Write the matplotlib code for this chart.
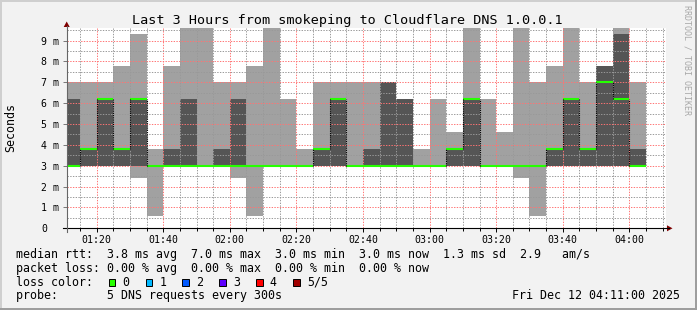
import matplotlib
matplotlib.use("Agg")
import matplotlib.pyplot as plt
import matplotlib.dates as mdates
from matplotlib.lines import Line2D
from matplotlib.patches import Rectangle, Polygon
from matplotlib.ticker import MultipleLocator, FuncFormatter
import numpy as np
import pandas as pd

plt.rcParams['font.family'] = ['DejaVu Sans Mono']

W, H, DPI = 697, 310, 100

# ---------------- data (5-minute intervals, values in ms) ----------------
interval_start = pd.date_range("2025-12-12 01:10", periods=35, freq="5min")
ping_min = [3.0, 3.0, 3.0, 3.0, 2.4, 0.6, 3.0, 3.0, 3.0, 3.0, 2.4, 0.6, 3.0, 3.0, 3.0,
            3.0, 3.0, 3.0, 3.0, 3.0, 3.0, 3.0, 3.0, 3.0, 3.0, 3.0, 3.0, 2.4, 0.6, 3.0,
            3.0, 3.0, 3.0, 3.0, 3.0]
ping_2nd = [3.0] * 35
ping_median = [3.0, 3.8, 6.2, 3.8, 6.2, 3.0, 3.0, 3.0, 3.0, 3.0, 3.0, 3.0, 3.0, 3.0, 3.0,
               3.8, 6.2, 3.0, 3.0, 3.0, 3.0, 3.0, 3.0, 3.8, 6.2, 3.0, 3.0, 3.0, 3.0, 3.8,
               6.2, 3.8, 7.0, 6.2, 3.0]
ping_4th = [6.2, 3.8, 6.2, 3.8, 6.2, 3.0, 3.8, 6.2, 3.0, 3.8, 6.2, 3.0, 3.0, 3.0, 3.0,
            3.8, 6.2, 3.0, 3.8, 7.0, 6.2, 3.0, 3.0, 3.8, 6.2, 3.0, 3.0, 3.0, 3.0, 3.8,
            6.2, 3.8, 7.8, 9.3, 3.8]
ping_max = [7.0, 7.0, 7.0, 7.8, 9.3, 3.8, 7.8, 10.0, 10.0, 7.0, 7.0, 7.8, 10.0, 6.2, 3.8,
            7.0, 7.0, 7.0, 7.0, 7.0, 6.2, 3.8, 6.2, 4.6, 10.0, 6.2, 4.6, 10.0, 7.0, 7.8,
            10.0, 7.0, 7.8, 10.0, 7.0]

title = "Last 3 Hours from smokeping to Cloudflare DNS 1.0.0.1"
legend_rtt = "median rtt:  3.8 ms avg  7.0 ms max  3.0 ms min  3.0 ms now  1.3 ms sd  2.9   am/s"
legend_loss = "packet loss: 0.00 % avg  0.00 % max  0.00 % min  0.00 % now"
legend_probe = "probe:       5 DNS requests every 300s"
timestamp = "Fri Dec 12 04:11:00 2025"
loss_labels = ["0", "1", "2", "3", "4", "5/5"]
loss_colors = ["#26ff00", "#00b8ff", "#0059ff", "#5e00ff", "#ff0000", "#a10000"]
x_start, x_end = "2025-12-12 01:11", "2025-12-12 04:11"

# ---------------- helpers ----------------
def fx(x):
    return x / W

def fy(y):
    return 1 - y / H

BACK = "#f2f2f2"
LIGHT = "#a1a1a1"
DARK = "#555555"

fig = plt.figure(figsize=(W / DPI, H / DPI), dpi=DPI, facecolor=BACK)

L, R, T, B = 66.7, 666.0, 28.3, 228.3
ax = fig.add_axes([fx(L), fy(B), fx(R) - fx(L), (B - T) / H])
ax.set_facecolor("white")

starts = mdates.date2num(interval_start.to_pydatetime())
step = 5 / 1440.0
edges = np.append(starts, starts[-1] + step)

def ext(v):
    v = np.asarray(v, dtype=float)
    return np.append(v, v[-1])

ax.fill_between(edges, ext(ping_min), ext(ping_max), step='post', color=LIGHT,
                linewidth=0, zorder=1)
ax.fill_between(edges, ext(ping_2nd), ext(ping_4th), step='post', color=DARK,
                linewidth=0, zorder=1.2)

med = np.asarray(ping_median)
ax.hlines(med, starts, starts + step, colors=loss_colors[0], linewidth=1.5,
          zorder=3, capstyle='butt')
for k in range(1, len(med)):
    if med[k] != med[k - 1]:
        ax.vlines(starts[k], min(med[k], med[k - 1]), max(med[k], med[k - 1]),
                  colors='black', linewidth=0.8, linestyles=(0, (1, 1)), zorder=3)

ax.set_xlim(mdates.datestr2num(x_start), mdates.datestr2num(x_end))
ax.set_ylim(0, 9.59)

# grid
ax.set_axisbelow(False)
ax.yaxis.set_major_locator(MultipleLocator(1))
ax.yaxis.set_minor_locator(MultipleLocator(0.5))
ax.yaxis.set_major_formatter(FuncFormatter(lambda v, p: "%d m" % v if v > 0 else "0"))
ax.xaxis.set_major_locator(mdates.MinuteLocator(byminute=[0, 20, 40]))
ax.xaxis.set_minor_locator(mdates.MinuteLocator(byminute=range(0, 60, 5)))
ax.xaxis.set_major_formatter(mdates.DateFormatter("%H:%M"))
ax.grid(True, which='minor', color=(0.6, 0.6, 0.6, 0.4), linewidth=0.7,
        linestyle=(0, (1.4, 1.4)))
ax.grid(True, which='major', color=(1.0, 0.45, 0.45, 0.45), linewidth=0.7,
        linestyle=(0, (1.4, 1.4)))

for s in ax.spines.values():
    s.set_visible(False)

ax.tick_params(axis='y', which='major', length=3, width=0.7, color='#777777',
               labelsize=7.1, pad=15.5)
ax.tick_params(axis='y', which='minor', length=0)
for lbl in ax.get_yticklabels():
    lbl.set_horizontalalignment('left')
ax.tick_params(axis='x', which='major', length=3, width=0.7, color='black',
               labelsize=7.1, pad=1.5)
ax.tick_params(axis='x', which='minor', length=2, width=0.7, color='black')

# axis lines and arrows
fig.add_artist(Line2D([fx(62.7), fx(669)], [fy(B), fy(B)], color='black', lw=0.8))
fig.add_artist(Polygon([(fx(667), fy(B - 3)), (fx(672.5), fy(B)), (fx(667), fy(B + 3))],
                       closed=True, color='#800000', lw=0))
fig.add_artist(Line2D([fx(L), fx(L)], [fy(232), fy(26)], color='#666666', lw=0.8))
fig.add_artist(Polygon([(fx(L - 3), fy(27)), (fx(L), fy(21.5)), (fx(L + 3), fy(27))],
                       closed=True, color='#800000', lw=0))

# texts
fig.text(fx(347.5), fy(24), title, fontsize=9.7, ha='center', va='baseline')
fig.text(fx(11), fy(127), "Seconds", fontsize=8.4, rotation=90, ha='center', va='center')
fig.text(fx(687.5), fy(60), "RRDTOOL / TOBI OETIKER", fontsize=6.0, rotation=270,
         ha='center', va='center', color='#a8a8a8')

LS = 8.4
fig.text(fx(16), fy(258.4), legend_rtt, fontsize=LS, ha='left', va='baseline')
fig.text(fx(16), fy(272.0), legend_loss, fontsize=LS, ha='left', va='baseline')
fig.text(fx(16), fy(285.7), "loss color:", fontsize=LS, ha='left', va='baseline')
fig.text(fx(16), fy(299.3), legend_probe, fontsize=LS, ha='left', va='baseline')
fig.text(fx(680.5), fy(299.3), timestamp, fontsize=LS, ha='right', va='baseline')

for i, (lab, col) in enumerate(zip(loss_labels, loss_colors)):
    sx = 108.7 + 36.85 * i
    fig.add_artist(Rectangle((fx(sx), fy(285.7)), 6.7 / W, 6.7 / H,
                             facecolor=col, edgecolor='black', lw=0.7))
    fig.text(fx(sx + 13.8), fy(285.7), lab, fontsize=LS, ha='left', va='baseline')

# 3D frame
fig.add_artist(Rectangle((0, fy(2)), 1, 2 / H, color='#cfcfcf', lw=0))
fig.add_artist(Rectangle((0, 0), 2 / W, 1, color='#cfcfcf', lw=0))
fig.add_artist(Rectangle((0, 0), 1, 2 / H, color='#9e9e9e', lw=0))
fig.add_artist(Rectangle((fx(W - 2), 0), 2 / W, 1, color='#9e9e9e', lw=0))

fig.savefig("out.png", dpi=DPI, facecolor=BACK)
